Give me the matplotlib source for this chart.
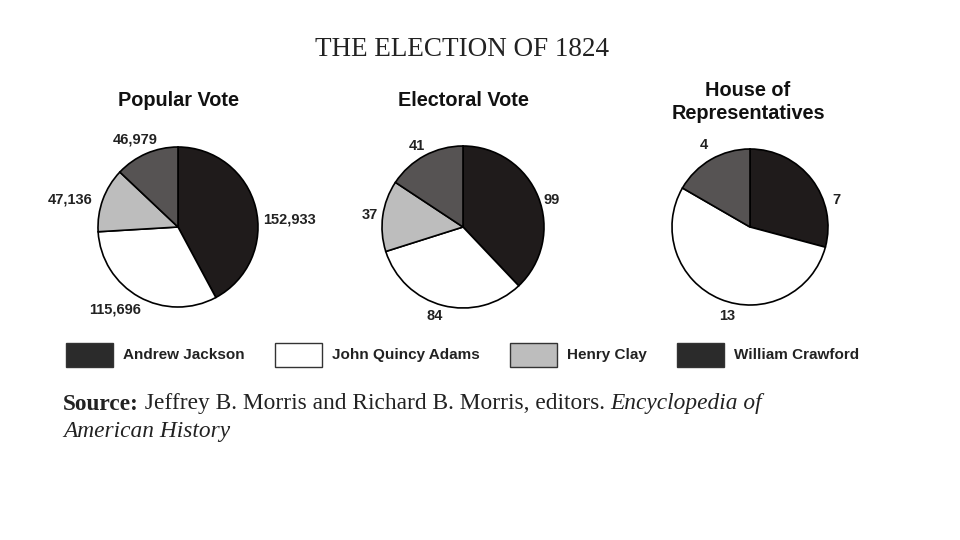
import matplotlib
matplotlib.use("Agg")
import matplotlib.pyplot as plt
from matplotlib.patches import Rectangle

candidates = ["Andrew Jackson", "John Quincy Adams", "Henry Clay", "William Crawford"]
slice_colors = ["#1f1b1b", "#ffffff", "#bdbdbd", "#565353"]
legend_colors = ["#2b2b2b", "#ffffff", "#bdbdbd", "#2b2b2b"]

popular_vote = [152933, 115696, 47136, 46979]
electoral_vote = [99, 84, 37, 41]
house_vote = [7, 13, 0, 4]

popular_labels = ["152,933", "115,696", "47,136", "46,979"]
electoral_labels = ["99", "84", "37", "41"]
house_labels = ["7", "13", "", "4"]

H = 540
fig = plt.figure(figsize=(9.6, 5.4), dpi=100)
ax = fig.add_axes([0, 0, 1, 1])
ax.set_xlim(0, 960)
ax.set_ylim(0, 540)
ax.axis("off")

sans = ["Liberation Sans", "DejaVu Sans"]
serif = ["Liberation Serif", "DejaVu Serif"]

ax.text(462, H - 50, "THE ELECTION OF 1824", family=serif, fontsize=19.5,
        ha="center", va="center", color="#222")

pies = [
    (popular_vote, popular_labels, (178, 227), 80, "Popular Vote",
     [(289, 219), (115, 309), (70, 199), (135, 140)]),
    (electoral_vote, electoral_labels, (463, 227), 81, "Electoral Vote",
     [(552, 200), (435, 316), (370, 215), (417, 146)]),
    (house_vote, house_labels, (750, 227), 78, "House of\nRepresentatives",
     [(836, 200), (727, 316), (0, 0), (704, 145)]),
]
title_pos = [(178, 100), (463, 100), (748, 102)]

for (vals, labs, (cx, cy), r, title, lpos), (tx, ty) in zip(pies, title_pos):
    cols = [c for c, x in zip(slice_colors, vals) if x > 0]
    v2 = [x for x in vals if x > 0]
    ax.pie(v2, colors=cols, startangle=90, counterclock=False,
           center=(cx, H - cy), radius=r,
           wedgeprops=dict(edgecolor="black", linewidth=1.2))
    ax.text(tx, H - ty, title, family=sans, fontweight="bold", fontsize=14.3,
            ha="center", va="center", color="#111", linespacing=1.3)
    for lab, (lx, ly) in zip(labs, lpos):
        if lab:
            ax.text(lx, H - ly, lab, family=sans, fontweight="bold", fontsize=10.5,
                    ha="center", va="center", color="#222")

ax.set_xlim(0, 960)
ax.set_ylim(0, 540)
ax.set_aspect("auto")

sw_x = [66, 275, 510, 677]
for name, col, x in zip(candidates, legend_colors, sw_x):
    ax.add_patch(Rectangle((x, H - 367), 47, 24, facecolor=col,
                           edgecolor="#333", linewidth=1.0))
    ax.text(x + 57, H - 355, name, family=sans, fontweight="bold", fontsize=11,
            ha="left", va="center", color="#222")

# Source line, pieces placed one after another
fig.canvas.draw()
renderer = fig.canvas.get_renderer()
src_size = 16.8
pieces = [("Source:", dict(fontweight="bold")),
          (" Jeffrey B. Morris and Richard B. Morris, editors. ", dict()),
          ("Encyclopedia of", dict(style="italic"))]
x = 63
for txt, kw in pieces:
    t = ax.text(x, H - 404, txt, family=serif, fontsize=src_size, ha="left",
                va="center", color="#222", **kw)
    bb = t.get_window_extent(renderer=renderer)
    x = bb.x1
ax.text(63, H - 431, "American History", family=serif, style="italic",
        fontsize=src_size, ha="left", va="center", color="#222")

fig.savefig("out.png", dpi=100, facecolor="white")
